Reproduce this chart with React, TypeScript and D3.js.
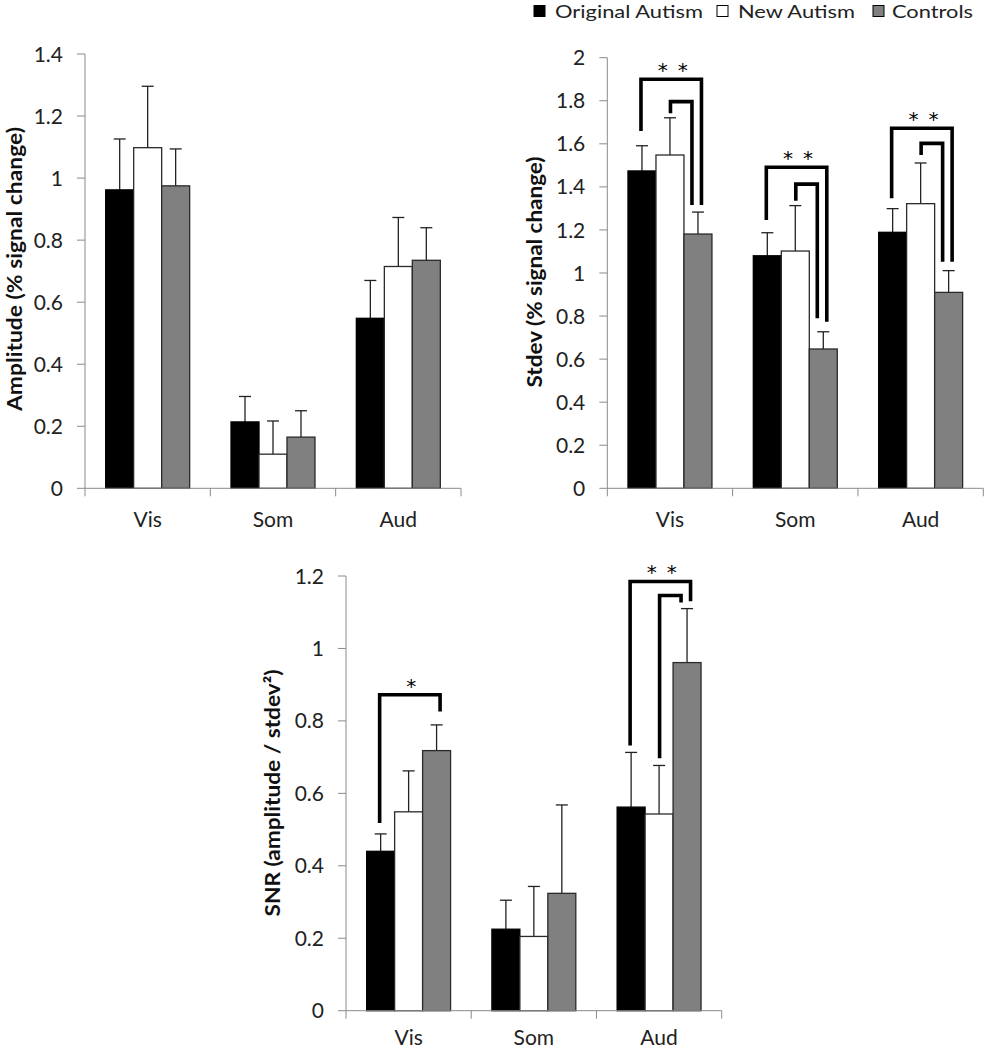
import React from "react";
import * as d3 from "d3";

// ---------- DATA ----------
const categories = ["Vis", "Som", "Aud"];
const seriesNames = ["Original Autism", "New Autism", "Controls"];

// Amplitude (% signal change)
const amplitudeOriginal = [0.962, 0.214, 0.548];
const amplitudeNew = [1.098, 0.11, 0.715];
const amplitudeControls = [0.975, 0.165, 0.735];
const amplitudeErrOriginal = [0.164, 0.082, 0.122];
const amplitudeErrNew = [0.198, 0.107, 0.158];
const amplitudeErrControls = [0.119, 0.085, 0.105];

// Stdev (% signal change)
const stdevOriginal = [1.474, 1.08, 1.189];
const stdevNew = [1.548, 1.102, 1.322];
const stdevControls = [1.181, 0.647, 0.91];
const stdevErrOriginal = [0.117, 0.107, 0.11];
const stdevErrNew = [0.173, 0.211, 0.189];
const stdevErrControls = [0.102, 0.08, 0.101];

// SNR (amplitude / stdev²)
const snrOriginal = [0.44, 0.225, 0.562];
const snrNew = [0.549, 0.205, 0.543];
const snrControls = [0.718, 0.324, 0.961];
const snrErrOriginal = [0.048, 0.08, 0.151];
const snrErrNew = [0.113, 0.138, 0.134];
const snrErrControls = [0.071, 0.244, 0.149];

const amplitudeTicks = [0, 0.2, 0.4, 0.6, 0.8, 1, 1.2, 1.4];
const stdevTicks = [0, 0.2, 0.4, 0.6, 0.8, 1, 1.2, 1.4, 1.6, 1.8, 2];
const snrTicks = [0, 0.2, 0.4, 0.6, 0.8, 1, 1.2];

// significance brackets (values in data units)
type Bracket = {
  cat: string;
  from: number;
  to: number;
  kind: "outer" | "inner";
  left: number;
  top: number;
  right: number;
  stars: number;
};
const stdevBrackets: Bracket[] = [
  { cat: "Vis", from: 0, to: 2, kind: "outer", left: 1.66, top: 1.9, right: 1.316, stars: 2 },
  { cat: "Vis", from: 1, to: 2, kind: "inner", left: 1.742, top: 1.796, right: 1.316, stars: 0 },
  { cat: "Som", from: 0, to: 2, kind: "outer", left: 1.246, top: 1.491, right: 0.774, stars: 2 },
  { cat: "Som", from: 1, to: 2, kind: "inner", left: 1.335, top: 1.413, right: 0.79, stars: 0 },
  { cat: "Aud", from: 0, to: 2, kind: "outer", left: 1.347, top: 1.672, right: 1.052, stars: 2 },
  { cat: "Aud", from: 1, to: 2, kind: "inner", left: 1.548, top: 1.602, right: 1.052, stars: 0 },
];
const snrBrackets: Bracket[] = [
  { cat: "Vis", from: 0, to: 2, kind: "outer", left: 0.518, top: 0.872, right: 0.826, stars: 1 },
  { cat: "Aud", from: 0, to: 2, kind: "outer", left: 0.732, top: 1.185, right: 1.13, stars: 2 },
  { cat: "Aud", from: 1, to: 2, kind: "inner", left: 0.697, top: 1.146, right: 1.127, stars: 0 },
];

// ---------- STYLE ----------
const FONT = "Lato, 'Open Sans', sans-serif";
const STAR_FONT = "'DejaVu Sans', sans-serif";
const fills = ["#000000", "#ffffff", "#808080"];
const AXIS = "#8a8a8a";

type ChartProps = {
  x0: number;
  x1: number;
  yBase: number;
  yTop: number;
  ticks: number[];
  values: number[][];
  errors: number[][];
  brackets: Bracket[];
  label: string;
  labelX: number;
  labelY: number;
  labelLen: number;
  catLabelOffset: number;
};

function fmt(v: number) {
  return String(+v.toFixed(1));
}

function Chart(p: ChartProps) {
  const max = p.ticks[p.ticks.length - 1];
  const y = d3.scaleLinear().domain([0, max]).range([p.yBase, p.yTop]);
  const xCat = d3.scaleBand<string>().domain(categories).range([p.x0, p.x1]).padding(0);
  const groupW = xCat.bandwidth() * 0.67;
  const xSer = d3
    .scaleBand<number>()
    .domain([0, 1, 2])
    .range([(xCat.bandwidth() - groupW) / 2, (xCat.bandwidth() + groupW) / 2])
    .padding(0);
  const bw = xSer.bandwidth();
  const center = (cat: string, s: number) => (xCat(cat) ?? 0) + (xSer(s) ?? 0) + bw / 2;
  const catBounds = [...categories.map((c) => xCat(c) ?? 0), p.x1];

  return (
    <g>
      {/* y axis */}
      <line x1={p.x0} x2={p.x0} y1={p.yBase} y2={y(max)} stroke={AXIS} strokeWidth={1} />
      {p.ticks.map((t) => (
        <g key={t}>
          <line x1={p.x0 - 8} x2={p.x0} y1={y(t)} y2={y(t)} stroke={AXIS} strokeWidth={1} />
          <text
            x={p.x0 - 22}
            y={y(t)}
            dy="0.36em"
            textAnchor="end"
            fontFamily={FONT}
            fontSize={21}
            fill="#222"
          >
            {fmt(t)}
          </text>
        </g>
      ))}
      {/* y label */}
      <text
        transform={`translate(${p.labelX},${p.labelY}) rotate(-90)`}
        textAnchor="middle"
        fontFamily={FONT}
        fontWeight="bold"
        fontSize={21}
        fill="#111"
        textLength={p.labelLen}
        lengthAdjust="spacingAndGlyphs"
      >
        {p.label}
      </text>
      {/* bars */}
      {categories.map((c, ci) =>
        [0, 1, 2].map((s) => {
          const v = p.values[s][ci];
          const e = p.errors[s][ci];
          const cx = center(c, s);
          return (
            <g key={c + s}>
              <line x1={cx} x2={cx} y1={y(v)} y2={y(v + e)} stroke="#222" strokeWidth={1.3} />
              <line x1={cx - 6} x2={cx + 6} y1={y(v + e)} y2={y(v + e)} stroke="#222" strokeWidth={1.3} />
              <rect
                x={(xCat(c) ?? 0) + (xSer(s) ?? 0)}
                y={y(v)}
                width={bw}
                height={p.yBase - y(v)}
                fill={fills[s]}
                stroke={s === 0 ? "#000" : "#2a2a2a"}
                strokeWidth={1.3}
              />
            </g>
          );
        })
      )}
      {/* x axis */}
      <line x1={p.x0} x2={p.x1} y1={p.yBase} y2={p.yBase} stroke={AXIS} strokeWidth={1} />
      {catBounds.map((b, i) => (
        <line key={i} x1={b} x2={b} y1={p.yBase} y2={p.yBase + 8} stroke={AXIS} strokeWidth={1} />
      ))}
      {categories.map((c) => (
        <text
          key={c}
          x={(xCat(c) ?? 0) + xCat.bandwidth() / 2}
          y={p.yBase + p.catLabelOffset}
          textAnchor="middle"
          fontFamily={FONT}
          fontSize={21}
          fill="#222"
        >
          {c}
        </text>
      ))}
      {/* significance brackets */}
      {p.brackets.map((b, i) => {
        const lx = center(b.cat, b.from) + (b.kind === "outer" ? -1 : 0.5);
        const rx = center(b.cat, b.to) + (b.kind === "outer" ? 3.5 : -6);
        const d = `M${lx},${y(b.left)} V${y(b.top)} H${rx} V${y(b.right)}`;
        const mid = (lx + rx) / 2 + 1.5;
        const starXs = b.stars === 2 ? [mid - 10, mid + 10] : b.stars === 1 ? [mid] : [];
        return (
          <g key={i}>
            <path d={d} fill="none" stroke="#000" strokeWidth={3.6} strokeLinejoin="miter" />
            {starXs.map((sx, k) => (
              <text
                key={k}
                x={sx}
                y={y(b.top) - 2}
                textAnchor="middle"
                fontFamily={STAR_FONT}
                fontSize={20}
                fill="#000"
              >
                *
              </text>
            ))}
          </g>
        );
      })}
    </g>
  );
}

function Legend() {
  const items = [
    { name: seriesNames[0], sq: 534, tx: 555, w: 148 },
    { name: seriesNames[1], sq: 717, tx: 738, w: 117 },
    { name: seriesNames[2], sq: 873, tx: 892, w: 81 },
  ];
  return (
    <g>
      {items.map((it, i) => (
        <g key={it.name}>
          <rect x={it.sq} y={5.5} width={11} height={11} fill={fills[i]} stroke="#000" strokeWidth={1} />
          <text
            x={it.tx}
            y={18}
            fontFamily={FONT}
            fontSize={17.5}
            fill="#222"
            textLength={it.w}
            lengthAdjust="spacingAndGlyphs"
          >
            {it.name}
          </text>
        </g>
      ))}
    </g>
  );
}

export default function App() {
  return (
    <svg
      width={984}
      height={1050}
      style={{ position: "absolute", left: 0, top: 0, background: "#fff" }}
    >
      <rect width={984} height={1050} fill="#fff" />
      <Legend />
      <Chart
        x0={85}
        x1={461}
        yBase={488.3}
        yTop={54}
        ticks={amplitudeTicks}
        values={[amplitudeOriginal, amplitudeNew, amplitudeControls]}
        errors={[amplitudeErrOriginal, amplitudeErrNew, amplitudeErrControls]}
        brackets={[]}
        label="Amplitude (% signal change)"
        labelX={21.5}
        labelY={269}
        labelLen={284}
        catLabelOffset={39}
      />
      <Chart
        x0={607.3}
        x1={983.3}
        yBase={488.3}
        yTop={57.7}
        ticks={stdevTicks}
        values={[stdevOriginal, stdevNew, stdevControls]}
        errors={[stdevErrOriginal, stdevErrNew, stdevErrControls]}
        brackets={stdevBrackets}
        label="Stdev (% signal change)"
        labelX={541.5}
        labelY={272}
        labelLen={231}
        catLabelOffset={39}
      />
      <Chart
        x0={346}
        x1={721.7}
        yBase={1010.7}
        yTop={576}
        ticks={snrTicks}
        values={[snrOriginal, snrNew, snrControls]}
        errors={[snrErrOriginal, snrErrNew, snrErrControls]}
        brackets={snrBrackets}
        label="SNR (amplitude / stdev²)"
        labelX={280}
        labelY={793}
        labelLen={247}
        catLabelOffset={34}
      />
    </svg>
  );
}
